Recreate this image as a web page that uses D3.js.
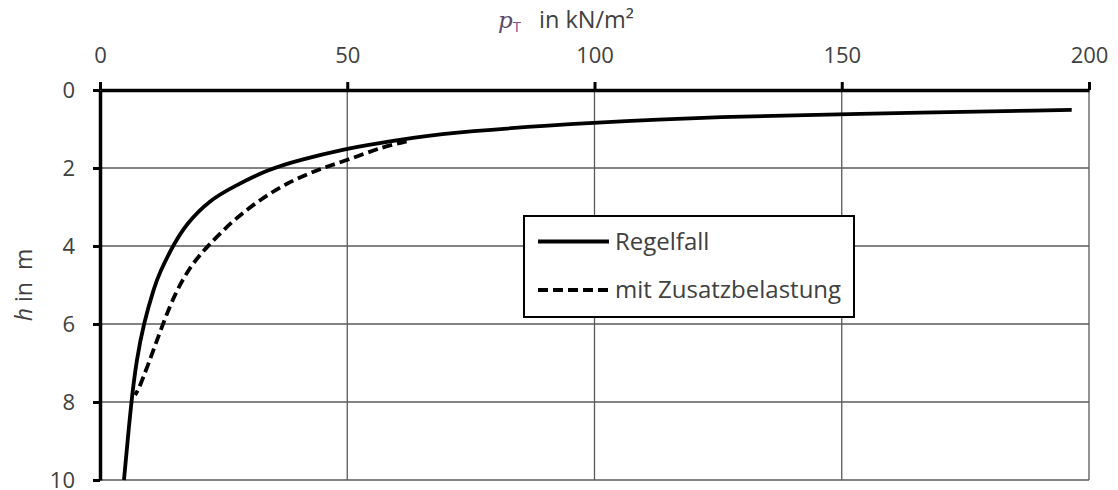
<!DOCTYPE html>
<html>
<head>
<meta charset="utf-8">
<script src="https://cdn.jsdelivr.net/npm/d3@7"></script>
<style>
  html, body { margin: 0; padding: 0; background: #fff; }
  svg { display: block; font-family: "Open Sans", sans-serif; }
</style>
</head>
<body>
<div id="chart"></div>
<script>
// values: depth h (m) and pressure p_T (kN/m²)
var regelH = [0.51, 0.62, 0.68, 0.83, 1.07, 1.22, 1.38, 1.5, 1.79, 2.05, 2.48, 2.82, 3.42, 4.0, 4.7, 5.04, 6.0, 6.92, 8.0, 10.0];
var regelP = [196.5, 150, 126, 100, 72.5, 63.5, 55.5, 50, 40.4, 33.7, 27, 22.2, 17.5, 14.7, 12.0, 11.0, 8.8, 7.4, 6.3, 4.85];

var zusatzH = [1.32, 1.45, 1.79, 2.05, 2.39, 2.82, 3.33, 4.02, 4.53, 5.21, 6.0, 6.92, 7.35, 7.69, 7.82];
var zusatzP = [62, 57.3, 50.2, 43.8, 37.7, 32.3, 27, 21.6, 18.2, 15.2, 12.7, 10.1, 8.8, 7.75, 7.1];

var xTicks = [0, 50, 100, 150, 200];
var yTicks = [0, 2, 4, 6, 8, 10];
var seriesNames = ['Regelfall', 'mit Zusatzbelastung'];

var width = 1118, height = 490;
var plotLeft = 100, plotRight = 1089, plotTop = 90, plotBottom = 480;
var textColor = '#404040';
var dash = '10,5';

var x = d3.scaleLinear().domain([0, 200]).range([plotLeft, plotRight]);
var y = d3.scaleLinear().domain([0, 10]).range([plotTop, plotBottom]);

var svg = d3.select('#chart').append('svg')
    .attr('width', width)
    .attr('height', height);

// grid
var grid = svg.append('g').attr('class', 'grid')
    .attr('stroke', '#5a5a5a')
    .attr('stroke-width', 1.3);
grid.selectAll('line.v')
    .data(xTicks.slice(1))
    .enter().append('line')
    .attr('class', 'v')
    .attr('x1', function (d) { return x(d); })
    .attr('x2', function (d) { return x(d); })
    .attr('y1', plotTop)
    .attr('y2', plotBottom);
grid.selectAll('line.h')
    .data(yTicks.slice(1))
    .enter().append('line')
    .attr('class', 'h')
    .attr('x1', plotLeft)
    .attr('x2', plotRight)
    .attr('y1', function (d) { return y(d); })
    .attr('y2', function (d) { return y(d); });

// axes
var xAxis = svg.append('g')
    .attr('transform', 'translate(0,' + plotTop + ')')
    .call(d3.axisTop(x).tickValues(xTicks).tickSize(8).tickSizeOuter(0).tickPadding(19));
var yAxis = svg.append('g')
    .attr('transform', 'translate(' + plotLeft + ',0)')
    .call(d3.axisLeft(y).tickValues(yTicks).tickSize(7).tickSizeOuter(0).tickPadding(18));

[xAxis, yAxis].forEach(function (ax) {
    ax.select('.domain').attr('stroke', '#000').attr('stroke-width', 3.5);
    ax.selectAll('.tick line').attr('stroke', '#000').attr('stroke-width', 3);
    ax.selectAll('.tick text')
        .attr('fill', textColor)
        .style('font-size', '22px')
        .style('font-family', '"Open Sans", sans-serif');
});

// curves
var line = d3.line()
    .x(function (d) { return x(d[1]); })
    .y(function (d) { return y(d[0]); })
    .curve(d3.curveBasis);

var series = [
    d3.zip(regelH, regelP),
    d3.zip(zusatzH, zusatzP)
];

svg.append('g').selectAll('path')
    .data(series)
    .enter().append('path')
    .attr('d', line)
    .attr('fill', 'none')
    .attr('stroke', '#000')
    .attr('stroke-width', 3.8)
    .attr('stroke-linejoin', 'round')
    .attr('stroke-dasharray', function (d, i) { return i === 1 ? dash : null; });

// legend
var lg = svg.append('g').attr('class', 'legend');
lg.append('rect')
    .attr('x', 524).attr('y', 216)
    .attr('width', 330).attr('height', 101)
    .attr('fill', '#fff')
    .attr('stroke', '#000')
    .attr('stroke-width', 2);

var rows = lg.selectAll('g.row')
    .data(seriesNames)
    .enter().append('g')
    .attr('class', 'row')
    .attr('transform', function (d, i) { return 'translate(0,' + (i === 0 ? 241.5 : 290) + ')'; });
rows.append('line')
    .attr('x1', 538).attr('x2', 609)
    .attr('stroke', '#000')
    .attr('stroke-width', 3.8)
    .attr('stroke-dasharray', function (d, i) { return i === 1 ? dash : null; });
rows.append('text')
    .attr('x', 615)
    .attr('dy', '0.35em')
    .attr('fill', textColor)
    .style('font-size', '24px')
    .text(function (d) { return d; });

// axis titles
var title = svg.append('text')
    .attr('x', 498)
    .attr('y', 28)
    .attr('fill', textColor)
    .style('font-size', '23.5px');
title.append('tspan')
    .attr('fill', '#5b4a66')
    .style('font-family', '"DejaVu Serif", serif')
    .style('font-style', 'italic')
    .style('font-size', '23px')
    .text('p');
title.append('tspan')
    .attr('fill', '#8c4a8c')
    .attr('dy', 4)
    .style('font-size', '15px')
    .text('T');
title.append('tspan')
    .attr('dy', -4)
    .attr('dx', 18)
    .text('in kN/m²');

var ylab = svg.append('text')
    .attr('transform', 'translate(32,' + ((plotTop + plotBottom) / 2) + ') rotate(-90)')
    .attr('text-anchor', 'middle')
    .attr('fill', textColor)
    .style('font-size', '23px')
    .style('white-space', 'pre');
ylab.append('tspan')
    .style('font-style', 'italic')
    .text('h');
ylab.append('tspan').text(' in  m');
</script>
</body>
</html>
